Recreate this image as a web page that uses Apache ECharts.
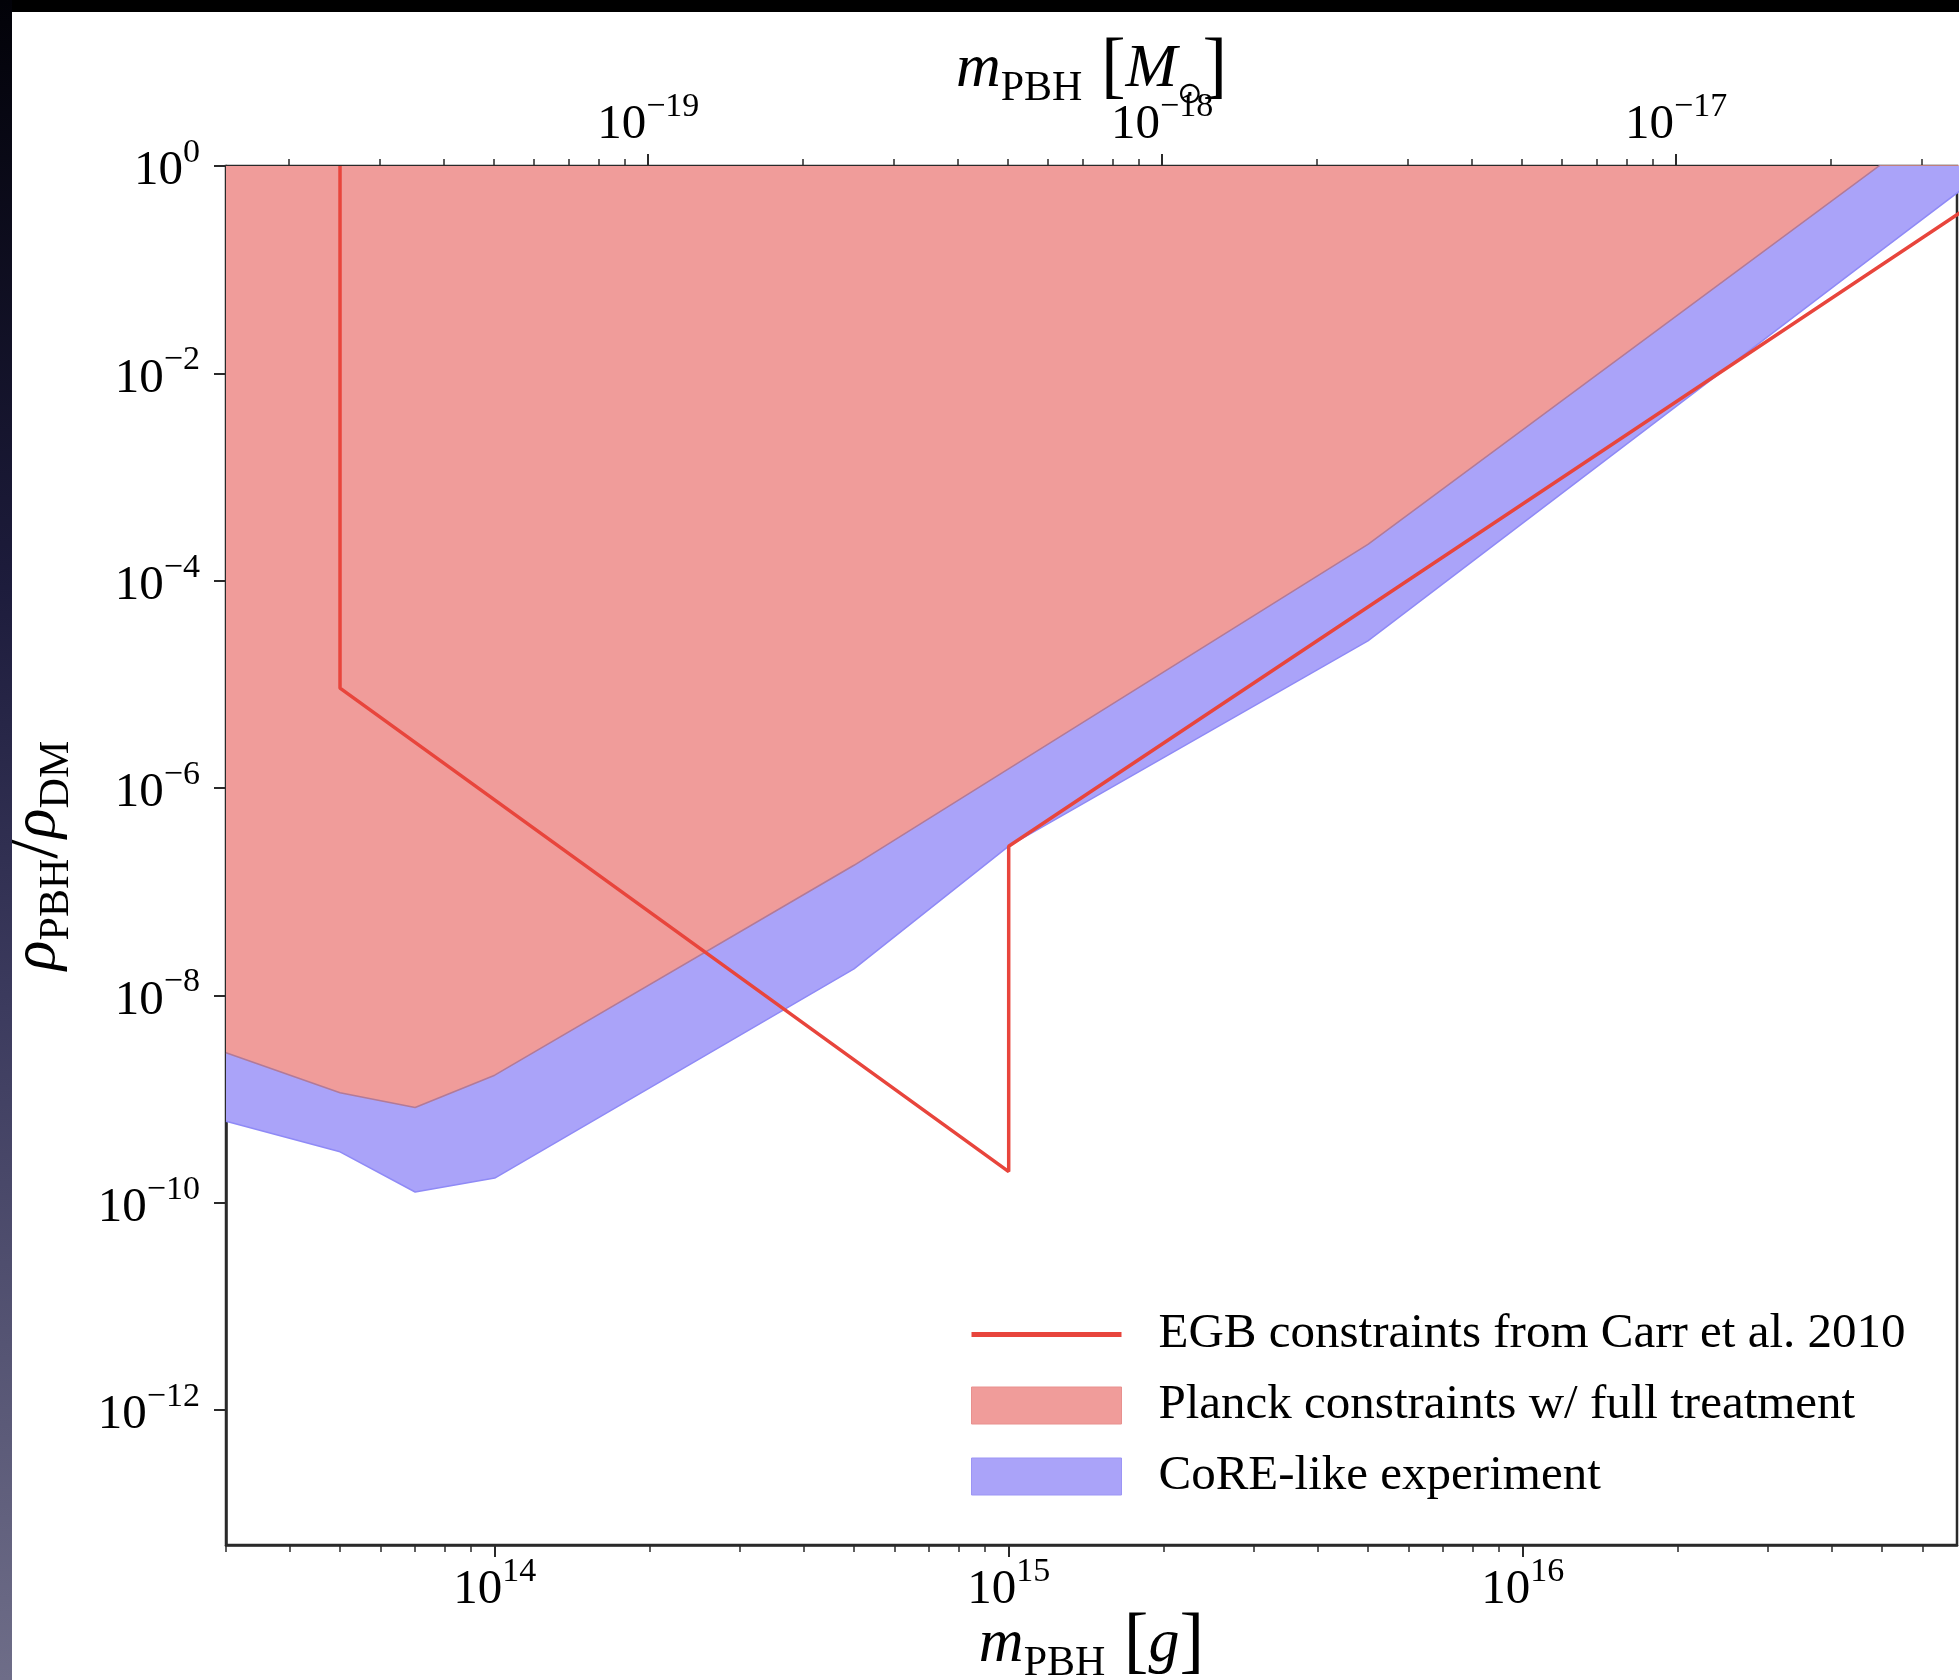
<!DOCTYPE html>
<html><head><meta charset="utf-8">
<script src="https://cdn.jsdelivr.net/npm/echarts@6/dist/echarts.min.js"></script>
<style>html,body{margin:0;padding:0;background:#fff}#c{width:1959px;height:1680px}</style>
</head><body><div id="c"></div>
<script>
// ---- data ----
const MSUN_G = 1.989e33;                 // grams per solar mass (top axis)
const xRange = [3e13, 7e16];             // m_PBH [g]
const yRange = [5e-14, 1];               // rho_PBH / rho_DM

const planckMass = [3e13, 5e13, 7e13, 1e14, 5e14, 5e15, 5e16, 1e17];
const planckFrac = [2.8e-9, 1.15e-9, 8.3e-10, 1.7e-9, 1.8e-7, 2.24e-4, 1.05, 13];

const coreMass = [3e13, 5e13, 7e13, 1e14, 5e14, 1e15, 5e15, 5e16, 1e17];
const coreFrac = [6.1e-10, 3.1e-10, 1.27e-10, 1.73e-10, 1.8e-8, 2.75e-7, 2.63e-5, 0.155, 2.1];

const egbMass = [5e13, 5e13, 1e15, 1e15, 1e17];
const egbFrac = [1, 9.2e-6, 2.0e-10, 2.75e-7, 1.1];

const xMajorTicks = [1e14, 1e15, 1e16];
const topMajorTicks = [1e-19, 1e-18, 1e-17];
const yMajorTicks = [1, 1e-2, 1e-4, 1e-6, 1e-8, 1e-10, 1e-12];

const legendNames = ['EGB constraints from Carr et al. 2010', 'Planck constraints w/ full treatment', 'CoRE-like experiment'];

// minor ticks k*10^n inside a range
function minorTicks(lo, hi) {
  const out = [];
  for (let e = Math.floor(Math.log10(lo)); e <= Math.ceil(Math.log10(hi)); e++) {
    for (let k = 2; k <= 9; k++) { const v = k * Math.pow(10, e); if (v >= lo && v <= hi) out.push(v); }
  }
  return out;
}
const zip = (a, b) => a.map((v, i) => [v, b[i]]);

const FONT = 'Liberation Serif';
const AX = '#2a2a2a';
function sci(v) { const e = Math.round(Math.log10(v)); return '{b|10}{s|' + (e < 0 ? '\u2212' + (-e) : e) + '}'; }
const tickRich = {
  b: { fontFamily: FONT, fontSize: 49, lineHeight: 60, verticalAlign: 'bottom', color: '#000' },
  s: { fontFamily: FONT, fontSize: 34, lineHeight: 34, verticalAlign: 'top', color: '#000' }
};
const nameRich = {
  i: { fontFamily: FONT, fontSize: 62, fontStyle: 'italic', lineHeight: 80, verticalAlign: 'middle', color: '#000' },
  sub: { fontFamily: FONT, fontSize: 42, lineHeight: 55, verticalAlign: 'bottom', color: '#000' },
  sub2: { fontFamily: 'DejaVu Sans', fontSize: 30, lineHeight: 50, verticalAlign: 'bottom', color: '#000' },
  br: { fontFamily: FONT, fontSize: 74, lineHeight: 80, verticalAlign: 'middle', color: '#000' }
};
const topRange = [xRange[0] / MSUN_G, xRange[1] / MSUN_G];

const chart = echarts.init(document.getElementById('c'), null, { renderer: 'canvas' });
chart.setOption({
  animation: false,
  backgroundColor: '#ffffff',
  graphic: [
    { type: 'rect', left: 0, top: 0, shape: { width: 1959, height: 12 }, style: { fill: '#000' }, z: 100 },
    { type: 'rect', left: 0, top: 0, shape: { width: 12, height: 1680 }, z: 100,
      style: { fill: new echarts.graphic.LinearGradient(0, 0, 0, 1, [
        { offset: 0, color: '#020208' }, { offset: 0.35, color: '#1d1c3c' },
        { offset: 0.6, color: '#3c3b5e' }, { offset: 1, color: '#6e6d88' }]) } }
  ],
  grid: { left: 226, right: 2, top: 166, bottom: 135, outerBoundsMode: 'none', containLabel: false,
          show: true, borderColor: AX, borderWidth: 2.5, backgroundColor: 'transparent' },
  legend: {
    orient: 'vertical', left: 966, top: 1305, itemWidth: 150, itemHeight: 37, itemGap: 22,
    textStyle: { fontFamily: FONT, fontSize: 49, color: '#000', padding: [0, 0, 0, 32] },
    data: [
      { name: legendNames[0], icon: 'path://M0,0L150,0L150,5L0,5Z', itemStyle: { color: '#e8453c' } },
      { name: legendNames[1], icon: 'rect', itemStyle: { color: '#f09c9a', borderColor: '#e8908e', borderWidth: 1 } },
      { name: legendNames[2], icon: 'rect', itemStyle: { color: '#aaa3f9', borderColor: '#9c95f5', borderWidth: 1 } }
    ]
  },
  xAxis: [
    { type: 'log', position: 'bottom', min: xRange[0], max: xRange[1],
      axisLine: { show: true, lineStyle: { color: AX, width: 2.5 } },
      axisTick: { show: true, customValues: xMajorTicks, length: 12, lineStyle: { color: AX, width: 2 } },
      axisLabel: { customValues: xMajorTicks, formatter: sci, rich: tickRich, margin: 10 },
      splitLine: { show: false }, minorTick: { show: false },
      name: '{i|m}{sub|PBH}{br| [}{i|g}{br|]}', nameLocation: 'middle', nameGap: 60, nameMoveOverlap: false,
      nameTextStyle: { rich: nameRich } },
    { type: 'log', position: 'bottom', min: xRange[0], max: xRange[1],
      axisLine: { show: false }, axisLabel: { show: false }, splitLine: { show: false },
      axisTick: { show: true, customValues: minorTicks(xRange[0], xRange[1]), length: 7, lineStyle: { color: AX, width: 1.5 } } },
    { type: 'log', position: 'top', min: topRange[0], max: topRange[1],
      axisLine: { show: true, lineStyle: { color: AX, width: 2.5 } },
      axisTick: { show: true, customValues: topMajorTicks, length: 12, lineStyle: { color: AX, width: 2 } },
      axisLabel: { customValues: topMajorTicks, formatter: sci, rich: tickRich, margin: 16 },
      splitLine: { show: false },
      name: '{i|m}{sub|PBH}{br| [}{i|M}{sub2|\u2299}{br|]}', nameLocation: 'middle', nameGap: 56, nameMoveOverlap: false,
      nameTextStyle: { rich: nameRich } },
    { type: 'log', position: 'top', min: topRange[0], max: topRange[1],
      axisLine: { show: false }, axisLabel: { show: false }, splitLine: { show: false },
      axisTick: { show: true, customValues: minorTicks(topRange[0], topRange[1]), length: 7, lineStyle: { color: AX, width: 1.5 } } }
  ],
  yAxis: [
    { type: 'log', position: 'left', min: yRange[0], max: yRange[1],
      axisLine: { show: true, lineStyle: { color: AX, width: 2.5 } },
      axisTick: { show: true, customValues: yMajorTicks, length: 12, lineStyle: { color: AX, width: 2 } },
      axisLabel: { customValues: yMajorTicks, formatter: sci, rich: tickRich, margin: 26 },
      splitLine: { show: false }, minorTick: { show: false },
      name: '{i|\u03c1}{sub|PBH}{br|/}{i|\u03c1}{sub|DM}', nameLocation: 'middle', nameGap: 148, nameRotate: 90,
      nameTextStyle: { rich: nameRich } }
  ],
  series: [
    { type: 'line', name: legendNames[2], xAxisIndex: 0, yAxisIndex: 0, data: zip(coreMass, coreFrac),
      symbol: 'none', showSymbol: false, silent: true, z: 1,
      lineStyle: { color: '#8f8af6', width: 1.5 }, itemStyle: { color: '#aaa3f9' },
      areaStyle: { color: '#aaa3f9', opacity: 1, origin: 'end' } },
    { type: 'line', name: legendNames[1], xAxisIndex: 0, yAxisIndex: 0, data: zip(planckMass, planckFrac),
      symbol: 'none', showSymbol: false, silent: true, z: 2,
      lineStyle: { color: '#b27a98', width: 1.5 }, itemStyle: { color: '#f09c9a' },
      areaStyle: { color: '#f09c9a', opacity: 1, origin: 'end' } },
    { type: 'line', name: legendNames[0], xAxisIndex: 0, yAxisIndex: 0, data: zip(egbMass, egbFrac),
      symbol: 'none', showSymbol: false, silent: true, z: 3,
      lineStyle: { color: '#e8453c', width: 3.5 }, itemStyle: { color: '#e8453c' } }
  ]
});
</script></body></html>
